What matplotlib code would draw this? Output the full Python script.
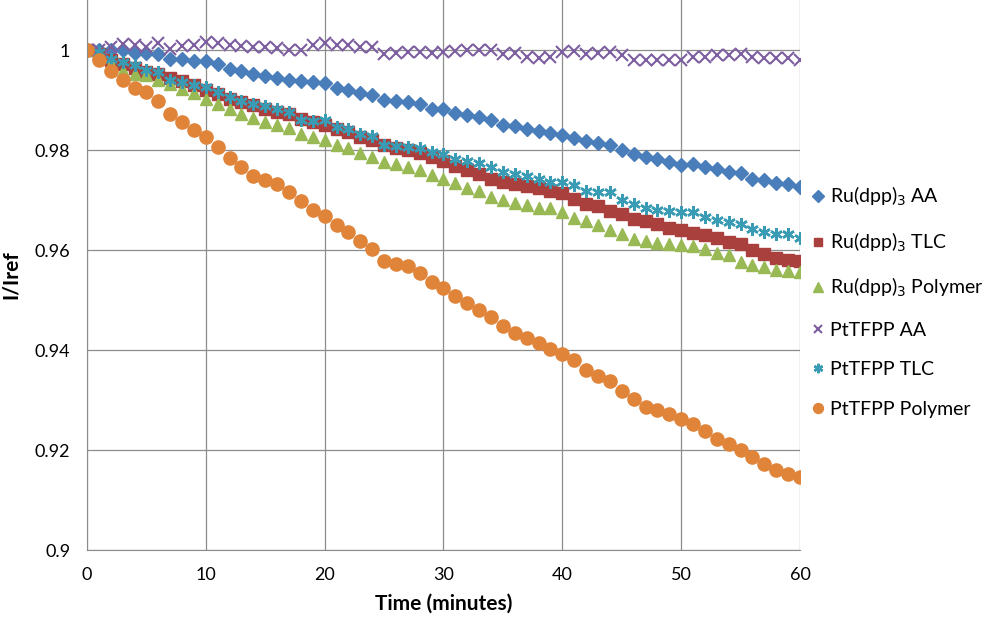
import matplotlib
matplotlib.use('Agg')
import matplotlib.pyplot as plt
from matplotlib.ticker import FuncFormatter

# time in minutes, one reading per minute
time_min = list(range(0, 61))

ru_aa = [1.0, 1.0, 1.0, 1.0, 0.9995, 0.9995, 0.9993, 0.9983, 0.9983, 0.9978,
         0.9978, 0.9973, 0.9963, 0.9959, 0.9952, 0.9948, 0.9945, 0.9941, 0.9939, 0.9937,
         0.9935, 0.9925, 0.9921, 0.9915, 0.9911, 0.9901, 0.9899, 0.9897, 0.9892, 0.9883,
         0.9883, 0.9875, 0.987, 0.9867, 0.986, 0.985, 0.9848, 0.9843, 0.9839, 0.9835,
         0.9831, 0.9825, 0.9819, 0.9815, 0.981, 0.98, 0.9792, 0.9787, 0.9782, 0.9777,
         0.977, 0.9773, 0.9767, 0.9763, 0.9757, 0.9755, 0.9743, 0.974, 0.9735, 0.9733,
         0.9727]

ru_tlc = [1.0, 0.9993, 0.998, 0.9972, 0.9965, 0.9957, 0.9953, 0.9945, 0.9939, 0.993,
          0.9921, 0.9912, 0.9903, 0.9897, 0.989, 0.9883, 0.9877, 0.9872, 0.9863, 0.9857,
          0.985, 0.9843, 0.9837, 0.9827, 0.982, 0.981, 0.9805, 0.98, 0.9795, 0.9787,
          0.9779, 0.9768, 0.9761, 0.9752, 0.9743, 0.9737, 0.9732, 0.9728, 0.9725, 0.9719,
          0.9715, 0.9703, 0.9693, 0.9688, 0.9679, 0.9672, 0.9663, 0.9659, 0.9652, 0.9645,
          0.9641, 0.9635, 0.963, 0.9625, 0.9617, 0.9613, 0.9601, 0.9592, 0.9585, 0.9581,
          0.9579]

ru_polymer = [1.0, 0.999, 0.9973, 0.9958, 0.9953, 0.995, 0.994, 0.9933, 0.9923, 0.9915,
              0.9903, 0.9893, 0.9883, 0.9873, 0.9865, 0.9857, 0.985, 0.9845, 0.9833, 0.9827,
              0.982, 0.981, 0.9805, 0.9795, 0.9787, 0.9777, 0.9772, 0.9767, 0.976, 0.975,
              0.9743, 0.9735, 0.9725, 0.9719, 0.9707, 0.97, 0.9695, 0.969, 0.9685, 0.9685,
              0.9677, 0.9665, 0.9659, 0.965, 0.9641, 0.9632, 0.9623, 0.9619, 0.9615, 0.9612,
              0.961, 0.9608, 0.9603, 0.9595, 0.959, 0.9577, 0.957, 0.9567, 0.956, 0.9559,
              0.9557]

pt_aa = [1.0, 1.0001, 1.0007, 1.0013, 1.001, 1.0007, 1.0015, 1.0003, 1.0008, 1.0011,
         1.0016, 1.0015, 1.0011, 1.0008, 1.0007, 1.0007, 1.0005, 1.0, 1.0, 1.001,
         1.0015, 1.0011, 1.001, 1.0007, 1.0007, 0.9993, 0.9995, 0.9997, 0.9997, 0.9995,
         0.9997, 0.9999, 1.0001, 1.0001, 1.0, 0.9993, 0.9995, 0.9987, 0.9985, 0.9987,
         0.9997, 0.9999, 0.9993, 0.9995, 0.9997, 0.999, 0.9981, 0.998, 0.998, 0.998,
         0.9981, 0.9987, 0.9987, 0.999, 0.999, 0.9993, 0.9987, 0.9985, 0.9985, 0.9985,
         0.998]

pt_tlc = [1.0, 0.9997, 0.9983, 0.9977, 0.997, 0.9961, 0.9957, 0.9941, 0.9937, 0.993,
          0.9927, 0.9917, 0.9907, 0.9899, 0.9892, 0.9888, 0.9883, 0.9877, 0.9861, 0.9859,
          0.986, 0.9847, 0.9843, 0.9833, 0.9828, 0.981, 0.9808, 0.9807, 0.9805, 0.9797,
          0.9793, 0.9783, 0.9779, 0.9775, 0.9767, 0.9757, 0.9753, 0.9748, 0.9743, 0.9737,
          0.9737, 0.973, 0.9719, 0.9717, 0.9717, 0.9701, 0.9693, 0.9685, 0.9681, 0.9679,
          0.9677, 0.9677, 0.9667, 0.966, 0.9657, 0.9652, 0.9643, 0.9637, 0.9632, 0.9632,
          0.9625]

pt_polymer = [1.0, 0.998, 0.9959, 0.994, 0.9925, 0.9917, 0.9899, 0.9873, 0.9857, 0.9841,
              0.9827, 0.9807, 0.9785, 0.9767, 0.9748, 0.974, 0.9733, 0.9717, 0.9699, 0.9681,
              0.9669, 0.965, 0.9636, 0.9619, 0.9603, 0.9579, 0.9572, 0.9568, 0.9555, 0.9537,
              0.9525, 0.9508, 0.9495, 0.9481, 0.9467, 0.9448, 0.9435, 0.9425, 0.9415, 0.9403,
              0.9393, 0.938, 0.936, 0.9348, 0.9339, 0.9319, 0.9303, 0.9287, 0.9281, 0.9273,
              0.9263, 0.9252, 0.9239, 0.9223, 0.9212, 0.9201, 0.9187, 0.9173, 0.916, 0.9153,
              0.9147]

plt.rcParams['font.family'] = ['Lato', 'DejaVu Sans']

fig = plt.figure(figsize=(10, 6.21), dpi=100)
ax = fig.add_axes([0.087, 0.1143, 0.713, 0.8857])

# Excel 2007 style series
ax.plot(time_min, ru_aa, linestyle='none', marker='D', markersize=7.5,
        color='#4A7EBB', label='Ru(dpp)$_3$ AA')
ax.plot(time_min, ru_tlc, linestyle='none', marker='s', markersize=8.5,
        color='#A9403D', label='Ru(dpp)$_3$ TLC')
ax.plot(time_min, ru_polymer, linestyle='none', marker='^', markersize=9,
        color='#98B954', label='Ru(dpp)$_3$ Polymer')
ax.plot(time_min, pt_aa, linestyle='none', marker='x', markersize=8.5, markeredgewidth=1.5,
        color='#7D5FA0', label='PtTFPP AA')
ax.plot(time_min, pt_tlc, linestyle='none', marker=(6, 2, 0), markersize=9, markeredgewidth=1.8,
        color='#3A9CB4', label='PtTFPP TLC')
ax.plot(time_min, pt_polymer, linestyle='none', marker='o', markersize=9.5,
        color='#E0843A', label='PtTFPP Polymer')

ax.set_xlim(0, 60)
ax.set_ylim(0.9, 1.01)
ax.set_xticks(range(0, 61, 10))
ax.set_yticks([0.9, 0.92, 0.94, 0.96, 0.98, 1.0])
ax.yaxis.set_major_formatter(FuncFormatter(lambda v, p: '%g' % round(v, 2)))
ax.grid(True, color='#8C8C8C', linewidth=0.9)
ax.set_axisbelow(True)
for side in ['top', 'right']:
    ax.spines[side].set_visible(False)
for side in ['left', 'bottom']:
    ax.spines[side].set_color('#8C8C8C')
ax.tick_params(length=0, labelsize=13, pad=12)

ax.set_xlabel('Time (minutes)', fontsize=15, fontweight='bold', labelpad=8)
ax.set_ylabel('I/Iref', fontsize=15, fontweight='bold', labelpad=10)

fig.legend(loc='center left', bbox_to_anchor=(0.8, 0.515), frameon=False,
           fontsize=14, labelspacing=1.15, handlelength=0.5, handletextpad=0.35,
           borderaxespad=0.3, markerscale=0.75)

fig.savefig('out.png', dpi=100)
